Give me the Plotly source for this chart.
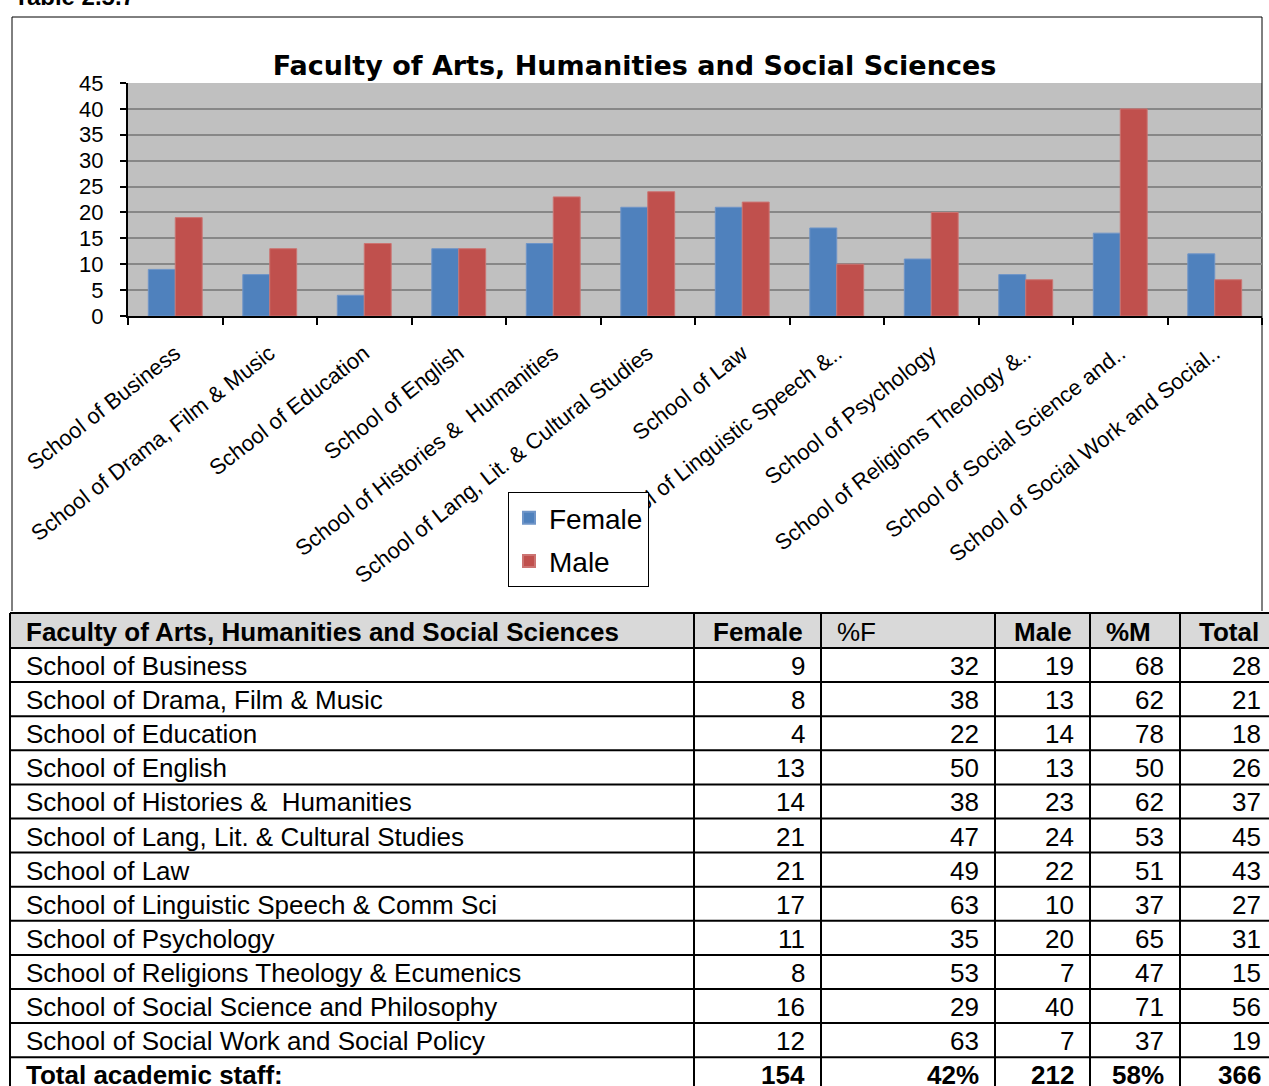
import plotly.graph_objects as go

W, H = 1269, 1086

schools = [
    "School of Business", "School of Drama, Film & Music", "School of Education",
    "School of English", "School of Histories &\u00a0 Humanities",
    "School of Lang, Lit. & Cultural Studies", "School of Law",
    "School of Linguistic Speech & Comm Sci", "School of Psychology",
    "School of Religions Theology & Ecumenics",
    "School of Social Science and Philosophy",
    "School of Social Work and Social Policy",
]
chart_labels = [
    "School of Business", "School of Drama, Film & Music", "School of Education",
    "School of English", "School of Histories &\u00a0 Humanities",
    "School of Lang, Lit. & Cultural Studies", "School of Law",
    "School of Linguistic Speech &..", "School of Psychology",
    "School of Religions Theology &..", "School of Social Science and..",
    "School of Social Work and Social..",
]
female = [9, 8, 4, 13, 14, 21, 21, 17, 11, 8, 16, 12]
pct_female = [32, 38, 22, 50, 38, 47, 49, 63, 35, 53, 29, 63]
male = [19, 13, 14, 13, 23, 24, 22, 10, 20, 7, 40, 7]
pct_male = [68, 62, 78, 50, 62, 53, 51, 37, 65, 47, 71, 37]
total = [28, 21, 18, 26, 37, 45, 43, 27, 31, 15, 56, 19]
totals_row = ["Total academic staff:", "154", "42%", "212", "58%", "366"]
headers = ["Faculty of Arts, Humanities and Social Sciences", "Female", "%F", "Male", "%M", "Total"]
header_bold = [True, True, False, True, True, True]

FONT = "Liberation Sans, Arial, sans-serif"


def px_x(p):
    return p / W


def px_y(p):
    return 1 - p / H


fig = go.Figure()
fig.add_trace(go.Bar(x=chart_labels, y=female, name="Female", legendgroup="f",
                     marker=dict(color="#4f81bd", line=dict(color="#6f95c8", width=1))))
fig.add_trace(go.Bar(x=chart_labels, y=male, name="Male", legendgroup="m",
                     marker=dict(color="#c0504d", line=dict(color="#cc7472", width=1))))

# ---------------- table drawn on its own (hidden) axes ----------------
col_w = [684, 127, 174, 95, 90, 97]
col_edges = [0]
for w in col_w:
    col_edges.append(col_edges[-1] + w)
header_h = 35
row_h = 34.1
n_rows = len(schools) + 1
row_edges = [0, header_h] + [header_h + (k + 1) * row_h for k in range(n_rows)]
table_bottom = row_edges[-1]

fig.add_trace(go.Scatter(x=[0], y=[0], xaxis="x2", yaxis="y2", mode="markers",
                         marker=dict(opacity=0), showlegend=False, hoverinfo="skip"))

shapes = []
# body fill (white) and header fill (grey)
shapes.append(dict(type="rect", xref="x2", yref="y2", x0=-2, x1=col_edges[-1],
                   y0=-2, y1=table_bottom, fillcolor="white", line=dict(width=0), layer="below"))
shapes.append(dict(type="rect", xref="x2", yref="y2", x0=0, x1=col_edges[-1],
                   y0=0, y1=header_h, fillcolor="#d9d9d9", line=dict(width=0), layer="below"))
for y in row_edges:
    shapes.append(dict(type="line", xref="x2", yref="y2", x0=0, x1=col_edges[-1],
                       y0=y, y1=y, line=dict(color="black", width=2)))
for x in col_edges:
    shapes.append(dict(type="line", xref="x2", yref="y2", x0=x, x1=x,
                       y0=0, y1=table_bottom, line=dict(color="black", width=2)))

annotations = []
PAD = 14


def cell_text(txt, col_i, row_top, row_bot, align, bold=False):
    t = "<b>%s</b>" % txt if bold else txt
    if align == "left":
        x, xa = col_edges[col_i] + PAD, "left"
    elif align == "right":
        x, xa = col_edges[col_i + 1] - PAD, "right"
    else:
        x, xa = (col_edges[col_i] + col_edges[col_i + 1]) / 2, "center"
    annotations.append(dict(text=t, xref="x2", yref="y2", x=x, y=(row_top + row_bot) / 2 + 1,
                            xanchor=xa, yanchor="middle", showarrow=False,
                            font=dict(family=FONT, size=26, color="black")))


header_align = ["left", "center", "left", "center", "left", "center"]
for j, h in enumerate(headers):
    cell_text(h, j, row_edges[0], row_edges[1], header_align[j], header_bold[j])

columns = [schools, female, pct_female, male, pct_male, total]
for i in range(len(schools)):
    top, bot = row_edges[i + 1], row_edges[i + 2]
    for j, colvals in enumerate(columns):
        cell_text(str(colvals[i]), j, top, bot, "left" if j == 0 else "right")
top, bot = row_edges[n_rows], row_edges[n_rows + 1]
for j, v in enumerate(totals_row):
    cell_text(v, j, top, bot, "left" if j == 0 else "right", True)

# chart frame
shapes.append(dict(type="rect", xref="paper", yref="paper",
                   x0=px_x(12), x1=px_x(1262), y0=px_y(613), y1=px_y(17),
                   line=dict(color="black", width=1), fillcolor="rgba(0,0,0,0)", layer="below"))

# partially visible caption at the very top
annotations.append(dict(text="<b>Table 2.5.7</b>", xref="paper", yref="paper",
                        x=px_x(12), y=px_y(12), xanchor="left", yanchor="bottom",
                        showarrow=False, font=dict(family=FONT, size=24, color="black")))

fig.update_layout(
    width=W, height=H,
    margin=dict(l=0, r=0, t=0, b=0, autoexpand=False),
    paper_bgcolor="white",
    plot_bgcolor="#c0c0c0",
    barmode="group",
    bargap=0.43,
    bargroupgap=0,
    font=dict(family=FONT, color="black"),
    title=dict(text="Faculty of Arts, Humanities and Social Sciences",
               x=0.5, xanchor="center", y=px_y(66), yanchor="middle",
               font=dict(family="DejaVu Sans, sans-serif", size=27, color="black", weight="bold")),
    xaxis=dict(domain=[px_x(128), px_x(1262)], type="category", automargin=False,
               tickangle=-38, tickson="boundaries", ticks="outside", ticklen=7,
               tickcolor="black", tickwidth=1.5, ticklabelstandoff=14,
               showline=True, linecolor="black", linewidth=2,
               showgrid=False, tickfont=dict(family=FONT, size=22, color="black")),
    yaxis=dict(domain=[px_y(316), px_y(83)], range=[0, 45], dtick=5, automargin=False,
               ticks="outside", ticklen=6, tickcolor="black", tickwidth=1.5,
               showline=True, linecolor="black", linewidth=2,
               showgrid=True, gridcolor="#878787", gridwidth=1.5,
               zeroline=False, ticklabelstandoff=12,
               tickfont=dict(family=FONT, size=22, color="black")),
    xaxis2=dict(domain=[px_x(8), 1.0], range=[-2, 1259], visible=False, automargin=False,
                anchor="y2", fixedrange=True),
    yaxis2=dict(domain=[0, px_y(611)], range=[473, -2], visible=False, automargin=False,
                anchor="x2", fixedrange=True),
    legend=dict(x=px_x(508), y=px_y(492), xanchor="left", yanchor="top",
                bgcolor="white", bordercolor="black", borderwidth=1,
                font=dict(family=FONT, size=28, color="black"),
                tracegroupgap=4, itemsizing="constant"),
    showlegend=True,
    shapes=shapes,
    annotations=annotations,
)

fig.write_html("out.html", config={"displayModeBar": False},
               post_script="document.body.style.margin='0px';")
